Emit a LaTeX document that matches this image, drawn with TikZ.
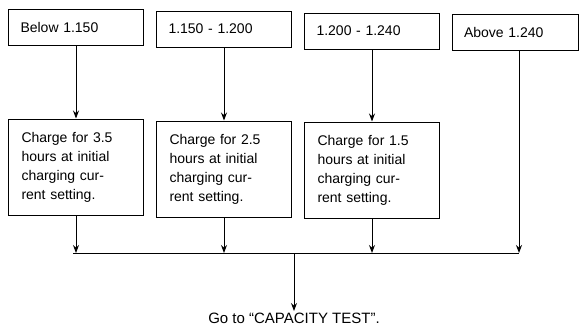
\documentclass[tikz,border=0pt]{standalone}
\usepackage{fontspec}
\setsansfont{Liberation Sans}
\usetikzlibrary{arrows.meta}
\begin{document}
\begin{tikzpicture}[x=1pt, y=-1pt,
      >={Stealth[length=8pt,width=6pt]},
      font=\sffamily\fontsize{14}{19}\selectfont,
      level/.style={draw, line width=1pt, minimum width=135pt, minimum height=36pt,
                    text width=111pt, inner xsep=12pt, align=left},
      charge/.style={draw, line width=1pt, minimum height=96pt,
                     text width=109pt, inner xsep=13pt, align=left},
      edge/.style={->, line width=1pt},
      bus/.style={line width=1pt}]
    \useasboundingbox (0,0) rectangle (580,333);

    \node[level] (b1) at (76,27)  {Below 1.150};
    \node[level] (b2) at (224,29) {1.150 - 1.200};
    \node[level] (b3) at (372,31) {1.200 - 1.240};
    \node[level, minimum width=126pt, text width=102pt] (b4) at (515,32) {Above 1.240};

    \node[charge] (m1) at (76,167)  {Charge for 3.5\\hours at initial\\charging cur-\\rent setting.};
    \node[charge] (m2) at (224,169) {Charge for 2.5\\hours at initial\\charging cur-\\rent setting.};
    \node[charge] (m3) at (372,170) {Charge for 1.5\\hours at initial\\charging cur-\\rent setting.};

    \coordinate (bl) at (73,253);
    \coordinate (r4) at (519,253);
    \coordinate (mid) at (294,253);
    \node[anchor=north, inner sep=2pt, font=\sffamily\fontsize{15}{19}\selectfont]
      (goto) at (294,311) {Go to ``CAPACITY TEST''.};

    \draw[edge] (b1) -- (m1);
    \draw[edge] (b2) -- (m2);
    \draw[edge] (b3) -- (m3);
    \draw[edge] (m1) -- (m1 |- mid);
    \draw[edge] (m2) -- (m2 |- mid);
    \draw[edge] (m3) -- (m3 |- mid);
    \draw[edge] (b4.south -| r4) -- (r4);
    \draw[bus] (bl) -- (r4);
    \draw[edge] (mid) -- (goto);
  \end{tikzpicture}
\end{document}
